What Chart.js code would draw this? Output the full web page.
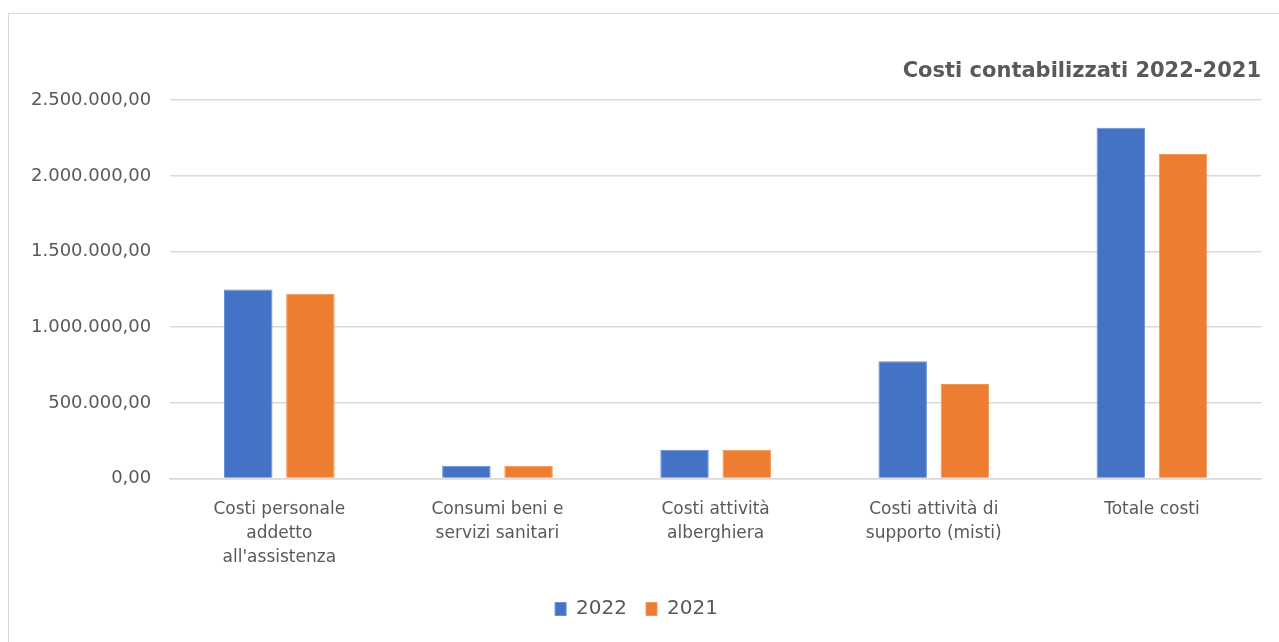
<!DOCTYPE html>
<html>
<head>
<meta charset="utf-8">
<script src="https://cdn.jsdelivr.net/npm/chart.js@4.4.1/dist/chart.umd.min.js"></script>
<style>
  html, body { margin: 0; padding: 0; background: #fff; overflow: hidden; }
  #box { position: absolute; left: 8px; top: 13px; width: 1290px; height: 660px; border: 1px solid #d9d9d9; }
  #wrap { position: absolute; left: 0; top: 0; width: 1270px; height: 628px; }
</style>
</head>
<body>
<div id="box"><div id="wrap"><canvas id="c"></canvas></div></div>
<script>
// Categorie e valori
const categories = [
  ['Costi personale', 'addetto', "all'assistenza"],
  ['Consumi beni e', 'servizi sanitari'],
  ['Costi attività', 'alberghiera'],
  ['Costi attività di', 'supporto (misti)'],
  'Totale costi'
];
const v2022 = [1250000, 85000, 190000, 775000, 2318000];
const v2021 = [1222000, 85000, 190000, 625000, 2144000];
const yMax = 2500000;
const yStep = 500000;

const FONT = 'DejaVu Sans';
const TXT = '#595959';

// formato italiano: 2.500.000,00
function fmt(v) {
  const s = Math.round(v).toString().replace(/\B(?=(\d{3})+(?!\d))/g, '.');
  return s + ',00';
}

new Chart(document.getElementById('c').getContext('2d'), {
  type: 'bar',
  data: {
    labels: categories,
    datasets: [
      { label: '2022', data: v2022, backgroundColor: '#4472C4', borderColor: '#6a8fd3', borderWidth: 1 },
      { label: '2021', data: v2021, backgroundColor: '#ED7D31', borderColor: '#f09655', borderWidth: 1 }
    ]
  },
  options: {
    responsive: true, maintainAspectRatio: false,
    animation: false,
    datasets: { bar: { categoryPercentage: 0.57, barPercentage: 0.78 } },
    layout: { padding: { left: 3, right: 18, top: 0, bottom: 13 } },
    plugins: {
      title: {
        display: true, text: 'Costi contabilizzati 2022-2021', align: 'end',
        color: TXT, font: { family: FONT, size: 21, weight: 'bold' },
        padding: { top: 45, bottom: 16 }
      },
      legend: {
        position: 'bottom',
        labels: { color: TXT, font: { family: FONT, size: 20 }, boxWidth: 11, boxHeight: 13, padding: 19 }
      },
      tooltip: { enabled: false }
    },
    scales: {
      x: {
        grid: { display: false },
        border: { color: '#d9d9d9', width: 1.5 },
        ticks: { color: TXT, font: { family: FONT, size: 17, lineHeight: 1.4 }, maxRotation: 0, autoSkip: false, padding: 11 }
      },
      y: {
        min: 0, max: yMax,
        grid: { color: '#d9d9d9', lineWidth: 1.5, drawTicks: false },
        border: { display: false },
        ticks: { stepSize: yStep, color: TXT, font: { family: FONT, size: 18 }, padding: 19, callback: v => fmt(v) }
      }
    }
  }
});
</script>
</body>
</html>
